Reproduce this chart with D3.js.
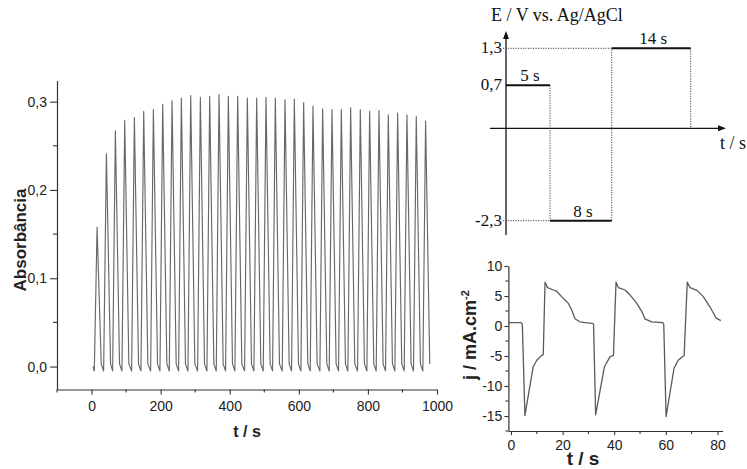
<!DOCTYPE html>
<html>
<head>
<meta charset="utf-8">
<script src="https://cdn.jsdelivr.net/npm/d3@7"></script>
<style>
  body { margin: 0; background: #fff; }
</style>
</head>
<body>
<svg id="chart" width="747" height="469" font-family="Arial, 'Liberation Sans', sans-serif"></svg>
<script>
// ---- Absorbance during repeated potential steps ----
const absPeakTime = [16, 43, 69, 96, 124, 151, 179, 206, 233, 260, 287, 315,
  342, 369, 396, 423, 451, 478, 505, 532, 560, 587, 614, 641, 669, 696, 723,
  750, 778, 805, 832, 859, 886, 913, 940, 967];
const absPeakValue = [0.158, 0.241, 0.267, 0.279, 0.282, 0.289, 0.291, 0.297,
  0.301, 0.304, 0.307, 0.305, 0.306, 0.308, 0.306, 0.306, 0.304, 0.304, 0.305,
  0.304, 0.302, 0.303, 0.299, 0.295, 0.292, 0.291, 0.291, 0.293, 0.291, 0.289,
  0.290, 0.285, 0.287, 0.285, 0.283, 0.278];
const absStart = { t: 4, a: 0.0 };     // first recorded point
const absDipValue = -0.005;            // small dip when the colouring step starts
const absBleachedValue = 0.003;        // level reached after the bleaching step
const absBleachTime = 12;              // time to reach that level after the peak
const absTimeTicks = [0, 200, 400, 600, 800, 1000];
const absTimeMinor = [-100, 100, 300, 500, 700, 900];
const absTicks = [0, 0.1, 0.2, 0.3];
const absMinor = [0.05, 0.15, 0.25];

// ---- Potential program (schematic) ----
const stepPotential = [0.7, -2.3, 1.3];
const stepDuration = [5, 8, 14];
const stepLabel = ["5 s", "8 s", "14 s"];

// ---- Current density transient ----
const jTime = [-0.8, 3.9, 4.4, 5.4, 8.6, 10.0, 11.9, 12.5, 13.2, 14.2, 16.4, 17.7,
  19.6, 22.2, 23.5, 24.8, 26.7, 28.7, 31.5, 32.0, 32.8, 36.2, 38.4, 39.7, 40.7,
  41.6, 44.2, 46.1, 48.7, 50.7, 51.9, 54.5, 58.8, 59.2, 60.1, 63.2, 64.8, 67.1,
  68.3, 69.4, 72.2, 74.5, 77.1, 79.5, 81.3];
const jValue = [0.57, 0.55, 0.3, -14.9, -6.8, -5.7, -4.9, -4.8, 7.3, 6.4, 6.0, 5.8,
  4.9, 3.8, 2.7, 1.2, 0.7, 0.57, 0.45, 0.3, -14.8, -6.8, -5.1, -4.9, 7.3,
  6.4, 6.0, 5.2, 3.8, 2.4, 1.2, 0.7, 0.57, 0.3, -15.1, -7.0, -5.7, -4.9,
  7.3, 6.4, 5.9, 4.9, 3.2, 1.3, 0.9];
const jTimeTicks = [0, 20, 40, 60, 80];
const jTimeMinor = [10, 30, 50, 70];
const jTicks = [-15, -10, -5, 0, 5, 10];
const jMinor = [-17.5, -12.5, -7.5, -2.5, 2.5, 7.5];

const svg = d3.select("#chart");
const hyphen = s => s.replace("\u2212", "-");
const comma = f => v => hyphen(d3.format(f)(v)).replace(".", ",");
const integer = v => hyphen(d3.format("d")(v));
const axisColor = "#333";
const textColor = "#222";

function styleAxis(g) {
  g.attr("font-family", null);
  g.select(".domain").attr("stroke", axisColor).attr("stroke-width", 1.2);
  g.selectAll(".tick line").attr("stroke", axisColor).attr("stroke-width", 1.1);
  g.selectAll(".tick text").attr("fill", textColor);
}

// ================= Absorbance panel =================
const ax = d3.scaleLinear().domain([-100, 1000]).range([57, 437]);
const ay = d3.scaleLinear().domain([-0.026, 0.324]).range([389.5, 80.5]);

// trace: start, then for every step cycle dip -> peak -> bleached level
const absPoints = [[absStart.t, absStart.a]];
absPeakTime.forEach((t, i) => {
  absPoints.push([t - stepDuration[1], absDipValue]);
  absPoints.push([t, absPeakValue[i]]);
  absPoints.push([t + absBleachTime, absBleachedValue]);
});
svg.append("path")
  .datum(absPoints)
  .attr("fill", "none")
  .attr("stroke", "#686868")
  .attr("stroke-width", 1.15)
  .attr("stroke-linejoin", "round")
  .attr("d", d3.line().x(d => ax(d[0])).y(d => ay(d[1])));

const axB = svg.append("g").attr("transform", `translate(0,${ay.range()[0]})`)
  .call(d3.axisBottom(ax).tickValues(absTimeTicks).tickSize(5).tickPadding(7)
    .tickFormat(integer).tickSizeOuter(0))
  .attr("font-size", 14);
styleAxis(axB);
axB.selectAll(null).data(absTimeMinor).enter().append("line")
  .attr("x1", d => ax(d)).attr("x2", d => ax(d)).attr("y1", 0).attr("y2", 3)
  .attr("stroke", axisColor).attr("stroke-width", 1.1);

const axL = svg.append("g").attr("transform", `translate(${ax.range()[0]},0)`)
  .call(d3.axisLeft(ay).tickValues(absTicks).tickSize(7).tickPadding(3)
    .tickFormat(comma(".1f")).tickSizeOuter(0))
  .attr("font-size", 14);
styleAxis(axL);
axL.selectAll(null).data(absMinor).enter().append("line")
  .attr("y1", d => ay(d)).attr("y2", d => ay(d)).attr("x1", 0).attr("x2", -4)
  .attr("stroke", axisColor).attr("stroke-width", 1.1);

svg.append("text").attr("x", 247).attr("y", 437)
  .attr("text-anchor", "middle").attr("font-weight", "bold").attr("font-size", 16)
  .attr("fill", textColor).text("t / s");
svg.append("text").attr("transform", "translate(26,240) rotate(-90)")
  .attr("text-anchor", "middle").attr("font-weight", "bold").attr("font-size", 17)
  .attr("fill", textColor).text("Absorbância");

// ================= Potential program (schematic) =================
const stepEdges = [0, ...d3.cumsum(stepDuration)];
const et = d3.scaleLinear().domain(stepEdges).range([506, 550, 611.7, 690.7]);
const eLevels = [...stepPotential].sort((a, b) => a - b);  // -2.3, 0.7, 1.3
const ey = d3.scaleLinear().domain([eLevels[0], 0, eLevels[1], eLevels[2]])
  .range([220.7, 128.3, 85.2, 48.3]);
const serif = "'Liberation Serif', 'Times New Roman', serif";
const eg = svg.append("g").attr("font-family", serif);

// axes with arrows
eg.append("line").attr("x1", et(0)).attr("x2", et(0)).attr("y1", 235).attr("y2", 36)
  .attr("stroke", "#111").attr("stroke-width", 1.3);
eg.append("path").attr("d", `M${et(0)},31 l-3,8 l6,0 z`).attr("fill", "#111");
eg.append("line").attr("x1", 490).attr("x2", 720).attr("y1", ey(0)).attr("y2", ey(0))
  .attr("stroke", "#111").attr("stroke-width", 1.3);
eg.append("path").attr("d", `M726,${ey(0)} l-8,-3 l0,6 z`).attr("fill", "#111");

// dotted guides
const dotted = (x1, y1, x2, y2) => eg.append("line")
  .attr("x1", x1).attr("y1", y1).attr("x2", x2).attr("y2", y2)
  .attr("stroke", "#444").attr("stroke-width", 1).attr("stroke-dasharray", "1.2,1.3");
// vertical at each step change
for (let i = 1; i < stepEdges.length; i++) {
  const from = stepPotential[i - 1];
  const to = i < stepPotential.length ? stepPotential[i] : 0;
  dotted(et(stepEdges[i]), ey(from), et(stepEdges[i]), ey(to));
}
// horizontal from the potential axis to each later step
for (let i = 1; i < stepPotential.length; i++) {
  dotted(503, ey(stepPotential[i]), et(stepEdges[i]), ey(stepPotential[i]));
}
// solid step levels and duration labels
stepPotential.forEach((e, i) => {
  eg.append("line").attr("x1", et(stepEdges[i])).attr("x2", et(stepEdges[i + 1]))
    .attr("y1", ey(e)).attr("y2", ey(e)).attr("stroke", "#111").attr("stroke-width", 2);
  eg.append("text").attr("x", (et(stepEdges[i]) + et(stepEdges[i + 1])) / 2 + 2)
    .attr("y", ey(e) - 4).attr("text-anchor", "middle")
    .attr("font-size", 17).attr("fill", "#111")
    .text(stepLabel[i]);
  eg.append("text").attr("x", 502).attr("y", ey(e) + 5).attr("text-anchor", "end")
    .attr("font-size", 17).attr("fill", "#111")
    .text(comma(".1f")(e));
});
eg.append("text").attr("x", 491).attr("y", 20.5)
  .attr("font-size", 18).attr("fill", "#111")
  .text("E / V vs. Ag/AgCl");
eg.append("text").attr("x", 720).attr("y", 148.5)
  .attr("font-size", 18).attr("fill", "#111")
  .text("t / s");

// ================= Current density panel =================
const jx = d3.scaleLinear().domain([-1, 82]).range([508.4, 722.6]);
const jy = d3.scaleLinear().domain([-17.5, 10]).range([431, 266]);

svg.append("path")
  .datum(jTime.map((t, i) => [t, jValue[i]]))
  .attr("fill", "none").attr("stroke", "#5a5a5a").attr("stroke-width", 1.3)
  .attr("stroke-linejoin", "round")
  .attr("d", d3.line().x(d => jx(d[0])).y(d => jy(d[1])));

const jB = svg.append("g").attr("transform", `translate(0,${jy.range()[0]})`)
  .call(d3.axisBottom(jx).tickValues(jTimeTicks).tickSize(4).tickPadding(5)
    .tickFormat(integer).tickSizeOuter(0))
  .attr("font-size", 14);
styleAxis(jB);
jB.selectAll(null).data(jTimeMinor).enter().append("line")
  .attr("x1", d => jx(d)).attr("x2", d => jx(d)).attr("y1", 0).attr("y2", 3)
  .attr("stroke", axisColor).attr("stroke-width", 1.1);

const jL = svg.append("g").attr("transform", `translate(${jx.range()[0]},0)`)
  .call(d3.axisLeft(jy).tickValues(jTicks).tickSize(4).tickPadding(2)
    .tickFormat(integer).tickSizeOuter(0))
  .attr("font-size", 14);
styleAxis(jL);
jL.selectAll(null).data(jMinor).enter().append("line")
  .attr("y1", d => jy(d)).attr("y2", d => jy(d)).attr("x1", 0).attr("x2", -3)
  .attr("stroke", axisColor).attr("stroke-width", 1.1);

svg.append("text").attr("x", 583).attr("y", 465)
  .attr("text-anchor", "middle").attr("font-weight", "bold").attr("font-size", 19)
  .attr("fill", textColor).text("t / s");
const jt = svg.append("text").attr("transform", "translate(476,335) rotate(-90)")
  .attr("text-anchor", "middle").attr("font-weight", "bold").attr("font-size", 18)
  .attr("fill", textColor);
jt.append("tspan").text("j / mA.cm");
jt.append("tspan").attr("dy", -7).attr("font-size", 11).text("-2");
</script>
</body>
</html>
